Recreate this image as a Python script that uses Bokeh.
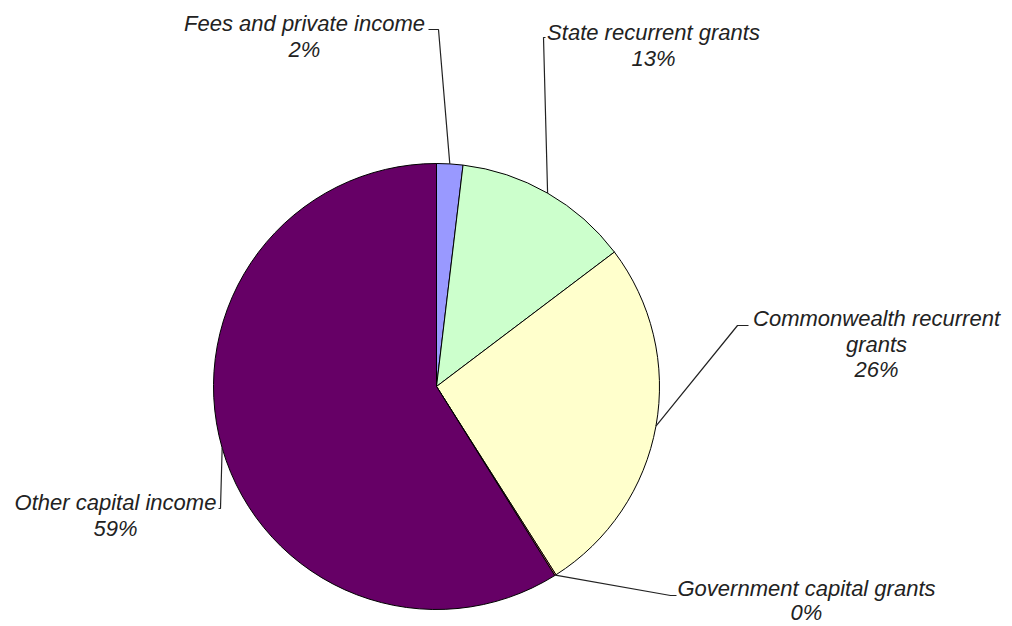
import math
from bokeh.plotting import figure
from bokeh.models import Range1d
from bokeh.core.properties import value
from bokeh.embed import file_html
from bokeh.resources import INLINE

# ---- data ----
categories = ["Fees and private income", "State recurrent grants",
              "Commonwealth recurrent grants", "Government capital grants",
              "Other capital income"]
shares = [1.9, 12.8, 26.3, 0.1, 58.9]
colors = ["#9999FF", "#CCFFCC", "#FFFFCC", "#FF8080", "#660066"]
label_lines = [["Fees and private income"], ["State recurrent grants"],
               ["Commonwealth recurrent", "grants"], ["Government capital grants"],
               ["Other capital income"]]

# ---- layout (pixels, top-left origin) ----
W, H = 1012, 626
CX, CY, R = 436, 386, 223
label_pos = [(304, 23), (653, 32), (876, 318), (806, 588), (115, 502)]
label_gap = [25.5, 25.5, 25.5, 24, 25.5]
elbow = [[(438, 29), (428, 29)], [(543, 37), (545, 37)],
         [(737, 325), (748, 325)], [(670, 595), (676, 595)],
         [(220, 508), (218, 508)]]

def fy(y):
    return H - y

p = figure(width=W, height=H, x_range=Range1d(0, W), y_range=Range1d(0, H),
           output_backend="svg", toolbar_location=None,
           x_axis_type=None, y_axis_type=None, min_border=0)
p.grid.visible = False
p.outline_line_color = None
p.background_fill_color = "white"

total = sum(shares)
starts, ends, cum = [], [], 0.0
for v in shares:
    starts.append(math.pi / 2 - 2 * math.pi * (cum + v) / total)
    ends.append(math.pi / 2 - 2 * math.pi * cum / total)
    cum += v

p.wedge(x=CX, y=fy(CY), radius=R, start_angle=starts, end_angle=ends,
        fill_color=colors, line_color="black", line_width=1)

cum = 0.0
for i, v in enumerate(shares):
    mid = (cum + v / 2) / total * 2 * math.pi
    cum += v
    ax = CX + R * math.sin(mid)
    ay = CY - R * math.cos(mid)
    xs = [ax] + [e[0] for e in elbow[i]]
    ys = [fy(ay)] + [fy(e[1]) for e in elbow[i]]
    p.line(xs, ys, line_color="#222222", line_width=1.2)
    lines = label_lines[i] + ["%d%%" % round(v / total * 100)]
    lx, ly = label_pos[i]
    p.text(x=[lx] * len(lines), y=[fy(ly + k * label_gap[i]) for k in range(len(lines))],
           text=lines, text_align="center", text_baseline="middle",
           text_font=value("Liberation Sans"), text_font_size="22px",
           text_font_style="italic", text_color="#222222")

open("out.html", "w").write(file_html(p, INLINE))
